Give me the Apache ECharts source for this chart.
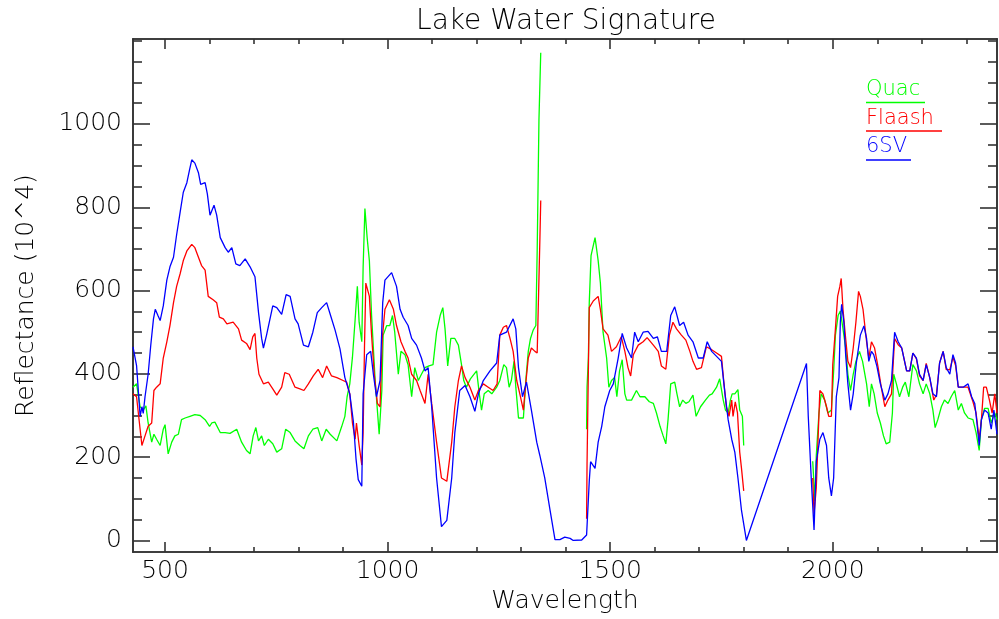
<!DOCTYPE html>
<html>
<head>
<meta charset="utf-8">
<title>Lake Water Signature</title>
<script src="https://cdn.jsdelivr.net/npm/echarts@6/dist/echarts.min.js"></script>
<style>
  html, body { margin: 0; padding: 0; background: #fff; }
  #chart { width: 999px; height: 619px; }
</style>
</head>
<body>
<div id="chart"></div>
<script>
// Wavelength axis (nm) and reflectance axis (scaled by 10^4)
const xRange = [428, 2369];
const yRange = [-28, 1204];
const xMajorTicks = [500, 1000, 1500, 2000];
const xMinorTicks = [600, 700, 800, 900, 1100, 1200, 1300, 1400, 1600, 1700, 1800, 1900, 2100, 2200, 2300];
const yMajorTicks = [0, 200, 400, 600, 800, 1000];
const yMinorTicks = [50, 100, 150, 250, 300, 350, 450, 500, 550, 650, 700, 750, 850, 900, 950, 1050, 1100, 1150, 1200];

// QUAC atmospheric correction: [wavelength, reflectance]; null marks the water absorption bands
const quac = [
  [428,368],[436,376],[440,376],[444,321],[451,313],[457,323],[462,282],[470,236],[475,255],[481,243],
  [489,228],[496,267],[500,278],[507,208],[515,236],[522,251],[530,255],[537,290],[545,294],[556,298],
  [567,302],[579,300],[590,290],[600,274],[605,282],[612,284],[624,259],[635,259],[646,257],[661,267],
  [672,236],[683,216],[691,208],[698,251],[704,271],[710,239],[717,251],[723,228],[732,243],[742,232],
  [751,212],[762,220],[771,267],[781,259],[792,239],[803,228],[812,220],[822,251],[832,267],[843,271],
  [852,239],[862,267],[871,255],[886,239],[897,274],[904,298],[909,345],[915,376],[921,440],[927,530],
  [932,610],[936,524],[942,477],[945,657],[949,797],[954,727],[959,672],[964,540],[972,384],[977,313],
  [981,255],[987,360],[990,493],[998,516],[1005,516],[1011,540],[1016,500],[1024,399],[1030,454],[1039,446],
  [1046,422],[1054,345],[1061,415],[1069,384],[1076,399],[1084,415],[1093,419],[1102,422],[1110,500],[1118,540],
  [1124,559],[1129,508],[1135,419],[1142,485],[1151,485],[1159,469],[1166,422],[1171,384],[1177,368],[1186,388],
  [1200,407],[1206,352],[1211,313],[1217,352],[1226,360],[1234,352],[1245,368],[1252,384],[1261,422],[1267,415],
  [1273,368],[1278,384],[1284,430],[1288,368],[1294,294],[1305,294],[1311,391],[1316,454],[1321,485],[1327,505],
  [1333,516],[1336,695],[1340,1011],[1344,1171],
  [1400,null],
  [1447,267],[1448,368],[1451,438],[1453,571],[1457,684],[1466,727],[1473,672],[1478,618],[1484,500],[1492,438],
  [1497,368],[1503,384],[1510,391],[1515,345],[1521,407],[1527,434],[1533,352],[1537,337],[1548,337],[1559,360],
  [1567,345],[1578,345],[1588,333],[1597,329],[1604,306],[1612,274],[1619,251],[1625,232],[1630,290],[1636,376],
  [1645,380],[1650,352],[1656,321],[1663,337],[1670,329],[1677,333],[1686,349],[1693,298],[1703,321],[1714,337],
  [1723,349],[1729,352],[1739,368],[1746,388],[1754,337],[1759,313],[1765,306],[1770,337],[1774,352],[1780,352],
  [1787,362],[1791,313],[1797,298],[1800,228],
  [1880,null],
  [1955,190],[1960,95],[1963,204],[1969,306],[1974,352],[1982,337],[1989,306],[1997,313],[2002,407],[2006,493],
  [2012,540],[2017,551],[2023,508],[2029,462],[2034,399],[2040,360],[2046,399],[2052,430],[2060,454],[2067,430],
  [2076,376],[2082,321],[2087,376],[2093,352],[2100,306],[2107,282],[2114,251],[2120,232],[2128,236],[2134,306],
  [2137,399],[2143,376],[2150,345],[2157,368],[2163,380],[2171,345],[2180,422],[2188,407],[2195,376],[2203,352],
  [2210,376],[2218,352],[2225,313],[2230,271],[2236,290],[2244,321],[2251,337],[2259,329],[2266,345],[2274,360],
  [2282,313],[2289,329],[2296,306],[2304,294],[2315,290],[2322,259],[2329,216],[2334,290],[2341,317],[2349,317],
  [2356,282],[2364,306],[2369,290]
];

// FLAASH atmospheric correction
const flaash = [
  [428,352],[436,345],[444,267],[448,228],[455,251],[462,274],[470,282],[475,360],[481,368],[489,376],
  [496,438],[504,477],[511,516],[519,571],[526,610],[534,641],[541,672],[549,695],[560,711],[567,703],
  [575,680],[582,660],[590,649],[597,586],[608,578],[616,571],[622,536],[631,532],[639,520],[653,524],
  [665,508],[672,481],[683,473],[691,458],[697,489],[702,497],[706,438],[711,399],[721,376],[732,380],
  [742,364],[751,349],[762,368],[769,403],[779,399],[792,368],[803,364],[812,360],[822,376],[833,395],
  [844,411],[854,391],[863,419],[874,395],[886,391],[900,384],[908,380],[915,352],[921,282],[927,243],
  [930,282],[936,228],[942,181],[945,259],[948,462],[951,618],[959,586],[964,493],[970,399],[977,329],
  [983,321],[988,485],[994,555],[1004,578],[1013,555],[1020,516],[1030,477],[1039,454],[1046,438],[1054,399],
  [1065,384],[1073,360],[1084,329],[1091,399],[1099,329],[1110,236],[1121,150],[1133,142],[1144,236],[1151,321],
  [1159,384],[1166,419],[1174,391],[1185,368],[1196,337],[1204,360],[1215,376],[1226,368],[1237,360],[1246,376],
  [1252,493],[1260,512],[1267,516],[1275,485],[1282,454],[1290,384],[1297,352],[1305,313],[1311,384],[1316,438],
  [1323,462],[1331,454],[1336,450],[1338,540],[1342,719],[1344,816],
  [1400,null],
  [1447,52],[1448,181],[1453,559],[1462,575],[1473,586],[1478,555],[1484,508],[1495,493],[1503,454],[1514,465],
  [1525,489],[1533,454],[1540,415],[1546,395],[1552,446],[1563,469],[1574,477],[1583,487],[1597,469],[1608,454],
  [1615,419],[1625,411],[1633,493],[1641,524],[1649,508],[1660,493],[1670,481],[1679,454],[1686,430],[1694,411],
  [1705,415],[1716,465],[1728,458],[1739,450],[1750,442],[1755,384],[1761,321],[1767,298],[1773,337],[1776,298],
  [1781,333],[1786,306],[1791,212],[1795,173],[1800,119],
  [1880,null],
  [1955,150],[1958,64],[1963,126],[1966,212],[1971,360],[1978,352],[1986,321],[1991,298],[1997,298],[2000,422],
  [2006,508],[2011,586],[2016,610],[2019,629],[2023,555],[2029,485],[2034,430],[2040,415],[2046,462],[2052,524],
  [2058,598],[2062,586],[2068,555],[2076,477],[2081,438],[2087,477],[2094,462],[2102,415],[2109,368],[2117,321],
  [2124,337],[2132,352],[2139,485],[2147,470],[2155,462],[2166,407],[2173,407],[2180,450],[2188,436],[2195,395],
  [2203,384],[2210,425],[2218,390],[2227,337],[2233,350],[2240,426],[2248,454],[2255,410],[2263,410],[2270,440],
  [2276,420],[2282,368],[2293,368],[2304,368],[2315,333],[2322,306],[2329,243],[2334,290],[2339,368],[2345,368],
  [2352,337],[2358,306],[2364,352],[2369,306]
];

// 6SV radiative transfer correction
const sixsv = [
  [428,465],[436,420],[444,298],[448,321],[451,305],[455,345],[462,399],[468,470],[474,532],[478,555],
  [484,540],[489,528],[496,563],[504,625],[511,657],[519,680],[526,734],[534,789],[541,836],[549,859],
  [555,890],[560,914],[567,906],[575,883],[580,855],[590,859],[595,832],[601,781],[610,805],[616,781],
  [624,727],[635,703],[642,692],[650,703],[659,664],[668,660],[680,676],[691,657],[702,633],[710,547],
  [717,485],[721,462],[728,493],[742,563],[751,559],[762,543],[772,590],[781,586],[792,532],[799,520],
  [811,469],[822,465],[832,500],[842,547],[852,559],[863,571],[871,543],[882,505],[893,460],[904,391],
  [915,352],[923,286],[929,196],[934,146],[942,130],[945,352],[953,446],[962,454],[968,399],[975,345],
  [983,384],[989,571],[994,625],[1009,643],[1020,610],[1028,555],[1035,536],[1046,516],[1054,485],[1065,469],
  [1076,438],[1084,407],[1091,415],[1099,321],[1110,150],[1121,33],[1133,48],[1144,150],[1151,259],[1162,360],
  [1174,372],[1185,345],[1196,310],[1204,352],[1215,384],[1230,407],[1245,426],[1252,493],[1267,500],[1282,532],
  [1288,508],[1294,415],[1303,345],[1312,380],[1323,313],[1335,236],[1342,204],[1353,150],[1365,72],[1376,2],
  [1387,2],[1398,8],[1410,5],[1417,0],[1436,1],[1447,13],[1449,56],[1453,142],[1456,189],[1466,173],
  [1473,236],[1481,274],[1488,321],[1499,360],[1507,376],[1518,438],[1527,497],[1537,462],[1548,438],[1555,500],
  [1563,477],[1574,500],[1585,502],[1597,485],[1606,489],[1615,454],[1627,454],[1636,540],[1645,561],[1656,516],
  [1665,524],[1675,493],[1686,477],[1698,438],[1709,438],[1718,477],[1728,454],[1739,442],[1750,430],[1758,352],
  [1765,290],[1773,243],[1780,212],[1787,150],[1795,72],[1806,0],[1941,425],[1945,298],[1952,142],[1958,25],
  [1963,189],[1971,243],[1978,259],[1986,228],[1991,150],[1997,107],[2002,150],[2008,345],[2014,391],[2017,524],
  [2020,567],[2025,524],[2029,446],[2034,376],[2040,313],[2046,352],[2053,426],[2062,493],[2070,515],[2076,485],
  [2081,430],[2087,454],[2092,446],[2099,419],[2107,376],[2117,337],[2124,352],[2132,384],[2139,500],[2147,477],
  [2155,462],[2166,407],[2173,407],[2180,450],[2188,438],[2195,399],[2203,384],[2210,422],[2218,391],[2225,352],
  [2233,345],[2240,426],[2248,454],[2255,415],[2263,399],[2270,446],[2276,426],[2282,368],[2293,368],[2304,376],
  [2312,345],[2319,329],[2324,282],[2329,228],[2334,290],[2341,313],[2349,306],[2356,267],[2362,313],[2369,255]
];

const seriesNames = ['Quac', 'Flaash', '6SV'];
const seriesColors = ['#00ff00', '#ff0000', '#0000ff'];

const FONT = 'DejaVu Sans';
const INK = '#000';
const frameLine = { color: '#333', width: 1.6 };

function plainNumber(v) { return String(v); }

function frameAxis(dim, position, ticks, tickLen, withLabels, extra) {
  const ax = {
    type: 'value',
    position: position,
    min: dim === 'x' ? xRange[0] : yRange[0],
    max: dim === 'x' ? xRange[1] : yRange[1],
    axisLine: { show: true, onZero: false, lineStyle: frameLine },
    axisTick: { show: true, inside: true, length: tickLen, customValues: ticks, lineStyle: frameLine },
    axisLabel: withLabels
      ? { show: true, customValues: ticks, formatter: plainNumber, fontFamily: FONT, fontSize: 25,
          fontWeight: 200, color: INK, margin: dim === 'x' ? 7 : 11 }
      : { show: false },
    splitLine: { show: false }
  };
  return Object.assign(ax, extra || {});
}

const chart = echarts.init(document.getElementById('chart'), null, { renderer: 'canvas' });

chart.setOption({
  animation: false,
  backgroundColor: '#fff',
  grid: { left: 133, right: 2, top: 39, bottom: 53, containLabel: false },
  xAxis: [
    frameAxis('x', 'bottom', xMajorTicks, 10, true, {
      name: 'Wavelength', nameLocation: 'middle', nameGap: 25,
      nameTextStyle: { fontFamily: FONT, fontSize: 25, fontWeight: 200, color: INK }
    }),
    frameAxis('x', 'bottom', xMinorTicks, 5, false),
    frameAxis('x', 'top', xMajorTicks, 10, false),
    frameAxis('x', 'top', xMinorTicks, 5, false)
  ],
  yAxis: [
    frameAxis('y', 'left', yMajorTicks, 17, true, {
      name: 'Reflectance (10^4)', nameLocation: 'middle', nameGap: 94, nameRotate: 90,
      nameTextStyle: { fontFamily: FONT, fontSize: 25, fontWeight: 200, color: INK }
    }),
    frameAxis('y', 'left', yMinorTicks, 9, false),
    frameAxis('y', 'right', yMajorTicks, 17, false),
    frameAxis('y', 'right', yMinorTicks, 9, false)
  ],
  graphic: [
    { type: 'text', x: 566, y: 22, style: { text: 'Lake Water Signature', font: '200 28px "' + FONT + '"',
      fill: INK, align: 'center', verticalAlign: 'middle' } },
    { type: 'text', x: 866, y: 90, style: { text: seriesNames[0], font: '200 21px "' + FONT + '"', fill: seriesColors[0], verticalAlign: 'middle' } },
    { type: 'line', shape: { x1: 866, y1: 102.5, x2: 925, y2: 102.5 }, style: { stroke: seriesColors[0], lineWidth: 1.5 } },
    { type: 'text', x: 866, y: 118.5, style: { text: seriesNames[1], font: '200 21px "' + FONT + '"', fill: seriesColors[1], verticalAlign: 'middle' } },
    { type: 'line', shape: { x1: 866, y1: 131, x2: 942, y2: 131 }, style: { stroke: seriesColors[1], lineWidth: 1.5 } },
    { type: 'text', x: 866, y: 147, style: { text: seriesNames[2], font: '200 21px "' + FONT + '"', fill: seriesColors[2], verticalAlign: 'middle' } },
    { type: 'line', shape: { x1: 866, y1: 160, x2: 911, y2: 160 }, style: { stroke: seriesColors[2], lineWidth: 1.5 } }
  ],
  series: [quac, flaash, sixsv].map(function (data, i) {
    return {
      name: seriesNames[i],
      type: 'line',
      xAxisIndex: 0,
      yAxisIndex: 0,
      data: data,
      showSymbol: false,
      connectNulls: false,
      clip: true,
      lineStyle: { color: seriesColors[i], width: 1.3 },
      itemStyle: { color: seriesColors[i] },
      z: 2 + i
    };
  })
});
</script>
</body>
</html>
